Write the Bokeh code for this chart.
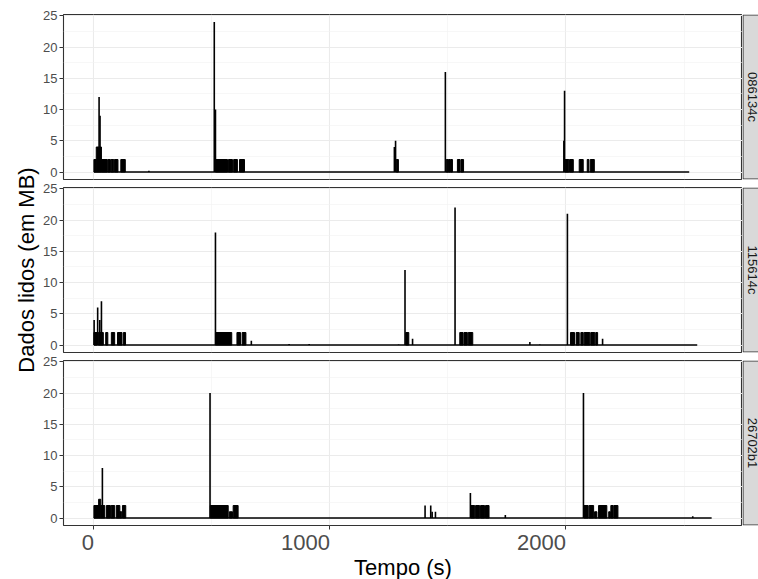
import math
from bokeh.plotting import figure
from bokeh.layouts import column, row
from bokeh.models import Range1d, FixedTicker
from bokeh.core.properties import value
from bokeh.embed import file_html
from bokeh.resources import INLINE

FONT = "Liberation Sans"

# ---------------- data ----------------
panel_ids = ["086134c", "115614c", "26702b1"]
start_times = [0, 0, 0]
end_times = [2522, 2556, 2617]

x_ticks = [0, 1000, 2000]
x_minor = [500, 1500, 2500]
y_ticks = [0, 5, 10, 15, 20, 25]
y_minor = [2.5, 7.5, 12.5, 17.5, 22.5]

# panel 1 (086134c)
p1_spike_t = [22, 26, 510, 515, 233, 1273, 1278, 1489, 1991, 1994]
p1_spike_v = [12, 9, 24, 10, 0.2, 4, 5, 16, 5, 13]
p1_burst_start = [0, 10, 32, 60, 73, 87, 114, 515, 570, 592, 617, 1281,
                  1493, 1502, 1511, 1540, 1555, 1996, 2015, 2056, 2090, 2103]
p1_burst_end = [10, 32, 57, 70, 84, 102, 133, 566, 587, 608, 638, 1290,
                1500, 1509, 1519, 1551, 1566, 2012, 2031, 2073, 2097, 2120]
p1_burst_level = [2, 4, 2, 2, 2, 2, 2, 2, 2, 2, 2, 2,
                  2, 2, 2, 2, 2, 2, 2, 2, 2, 2]

# panel 2 (115614c)
p2_spike_t = [1, 16, 25, 32, 515, 667, 827, 912, 1291, 1318, 1350, 1530,
              1847, 1889, 2006, 2155]
p2_spike_v = [4, 6, 4, 7, 18, 0.7, 0.15, 0.15, 0.1, 12, 1, 22,
              0.5, 0.1, 21, 1]
p2_burst_start = [0, 19, 50, 74, 100, 125, 515, 606, 628, 1321,
                  1550, 1568, 1586, 2019, 2043, 2063, 2077, 2105, 2126]
p2_burst_end = [14, 40, 59, 88, 119, 134, 584, 621, 644, 1334,
                1564, 1582, 1605, 2036, 2056, 2073, 2101, 2122, 2134]
p2_burst_level = [2, 2, 2, 2, 2, 2, 2, 2, 2, 2,
                  2, 2, 2, 2, 2, 2, 2, 2, 2]

# panel 3 (26702b1)
p3_spike_t = [36, 492, 1403, 1427, 1433, 1447, 1595, 1743, 2074, 2537]
p3_spike_v = [8, 20, 2, 2, 1, 1, 4, 0.5, 20, 0.3]
p3_burst_start = [0, 20, 29, 53, 73, 95, 110, 121, 493, 574, 590,
                  1596, 1617, 1638, 1659, 2076, 2098, 2121, 2138, 2181, 2190, 2203]
p3_burst_end = [20, 29, 46, 70, 88, 110, 118, 135, 569, 587, 611,
                1613, 1634, 1655, 1674, 2094, 2117, 2131, 2173, 2188, 2200, 2220]
p3_burst_level = [2, 3, 2, 2, 2, 2, 1, 2, 2, 1, 2,
                  2, 2, 2, 2, 2, 2, 1, 2, 1, 2, 2]

y_title = "Dados lidos (em MB)"
x_title = "Tempo (s)"

spikes_t = [p1_spike_t, p2_spike_t, p3_spike_t]
spikes_v = [p1_spike_v, p2_spike_v, p3_spike_v]
bursts_s = [p1_burst_start, p2_burst_start, p3_burst_start]
bursts_e = [p1_burst_end, p2_burst_end, p3_burst_end]
bursts_l = [p1_burst_level, p2_burst_level, p3_burst_level]

# ---------------- layout ----------------
X_RANGE = (-128.75, 2747.75)
Y_RANGE = (-1.2, 25.2)
TITLE_W = 40
FRAME_W = 679
FRAME_H = 165
LEFT = 22
STRIP_W = 17
tops = [14, 7, 7]
bottoms = [1, 1, 54]
TOTAL_H = sum(tops) + sum(bottoms) + 3 * FRAME_H


def make_panel(i):
    last = i == 2
    p = figure(frame_width=FRAME_W, frame_height=FRAME_H,
               x_range=Range1d(*X_RANGE), y_range=Range1d(*Y_RANGE),
               min_border_left=LEFT, min_border_right=0,
               min_border_top=tops[i], min_border_bottom=bottoms[i],
               toolbar_location=None, output_backend="svg",
               x_axis_location="below" if last else None)
    p.background_fill_color = "white"
    p.border_fill_color = "white"
    p.outline_line_color = "#333333"
    p.outline_line_width = 1.1

    xt = FixedTicker(ticks=x_ticks, minor_ticks=x_minor)
    yt = FixedTicker(ticks=y_ticks, minor_ticks=y_minor)
    p.xgrid.ticker = xt
    p.ygrid.ticker = yt
    for g in (p.xgrid, p.ygrid):
        g.grid_line_color = "#EBEBEB"
        g.grid_line_width = 1.1
        g.minor_grid_line_color = "#F2F2F2"
        g.minor_grid_line_width = 0.6

    ax = p.yaxis[0]
    ax.ticker = yt
    ax.axis_line_color = None
    ax.major_tick_line_color = "#333333"
    ax.major_tick_out = 4
    ax.major_tick_in = 0
    ax.minor_tick_line_color = None
    ax.major_label_standoff = 2
    ax.major_label_text_font = FONT
    ax.major_label_text_font_size = "13px"
    ax.major_label_text_color = "#4D4D4D"

    if last:
        xa = p.xaxis[0]
        xa.ticker = xt
        xa.axis_line_color = None
        xa.major_tick_line_color = "#333333"
        xa.major_tick_out = 4
        xa.major_tick_in = 0
        xa.minor_tick_line_color = None
        xa.major_label_standoff = 0
        xa.major_label_text_font = FONT
        xa.major_label_text_font_size = "22px"
        xa.major_label_text_color = "#4D4D4D"
        # labels sit to the left of their tick (right-aligned)
        xa.major_label_overrides = {t: str(t) + "\u2007" * len(str(t)) for t in x_ticks}
        xa.axis_label = x_title
        xa.axis_label_text_font = FONT
        xa.axis_label_text_font_size = "22px"
        xa.axis_label_text_font_style = "normal"
        xa.axis_label_text_color = "black"
        xa.axis_label_standoff = -3

    # baseline of the series (zero between bursts)
    p.segment(x0=[start_times[i]], y0=[0], x1=[end_times[i]], y1=[0],
              line_color="black", line_width=1.4)
    # bursts of reads
    p.quad(left=bursts_s[i], right=bursts_e[i], bottom=[0] * len(bursts_s[i]),
           top=bursts_l[i], fill_color="black", line_color="black", line_width=1)
    # isolated peaks
    p.segment(x0=spikes_t[i], y0=[0] * len(spikes_t[i]), x1=spikes_t[i], y1=spikes_v[i],
              line_color="black", line_width=1.6)
    return p


def make_strip(i):
    s = figure(frame_width=STRIP_W, frame_height=FRAME_H,
               x_range=Range1d(0, STRIP_W), y_range=Range1d(0, FRAME_H),
               min_border_left=0, min_border_right=0,
               min_border_top=tops[i], min_border_bottom=bottoms[i],
               toolbar_location=None, output_backend="svg",
               x_axis_location=None, y_axis_location=None)
    s.xgrid.visible = False
    s.ygrid.visible = False
    s.outline_line_color = None
    s.background_fill_color = "white"
    s.border_fill_color = "white"
    s.quad(left=[0.5], right=[STRIP_W + 20], bottom=[0.5], top=[FRAME_H - 0.5],
           fill_color="#D9D9D9", line_color="#333333", line_width=1.1)
    s.text(x=[9.5], y=[FRAME_H / 2], text=[panel_ids[i]], angle=-math.pi / 2,
           text_align="center", text_baseline="middle",
           text_font=value(FONT), text_font_size="13px", text_color="#1A1A1A")
    return s


def make_title():
    t = figure(frame_width=TITLE_W, frame_height=TOTAL_H,
               x_range=Range1d(0, TITLE_W), y_range=Range1d(0, TOTAL_H),
               min_border_left=0, min_border_right=0,
               min_border_top=0, min_border_bottom=0,
               toolbar_location=None, output_backend="svg",
               x_axis_location=None, y_axis_location=None)
    t.xgrid.visible = False
    t.ygrid.visible = False
    t.outline_line_color = None
    t.background_fill_color = "white"
    t.border_fill_color = "white"
    # centred on the middle of the three panels
    mid = TOTAL_H - (tops[0] + (3 * FRAME_H + tops[1] + tops[2] + bottoms[0] + bottoms[1]) / 2)
    t.text(x=[26], y=[mid], text=[y_title], angle=math.pi / 2,
           text_align="center", text_baseline="middle",
           text_font=value(FONT), text_font_size="22px", text_color="black")
    return t


rows = [row(make_panel(i), make_strip(i)) for i in range(3)]
layout = row(make_title(), column(*rows))

open("out.html", "w").write(file_html(layout, INLINE))
